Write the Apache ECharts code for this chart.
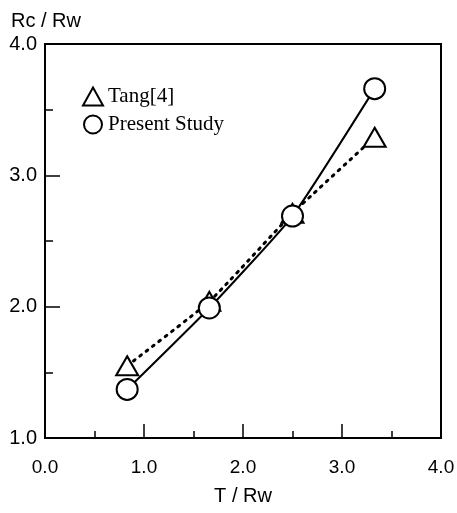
<!DOCTYPE html>
<html>
<head>
<meta charset="utf-8">
<script src="https://cdn.jsdelivr.net/npm/echarts@6/dist/echarts.min.js"></script>
<style>html,body{margin:0;padding:0;background:#fff}#c{width:457px;height:513px}</style>
</head>
<body>
<div id="c"></div>
<script>
var xTang = [0.83, 1.66, 2.5, 3.33];
var yTang = [1.55, 2.04, 2.71, 3.29];
var xPresent = [0.83, 1.66, 2.5, 3.33];
var yPresent = [1.37, 1.99, 2.69, 3.66];
var xTicks = [0, 1, 2, 3, 4];
var yTicks = [1, 2, 3, 4];

function pairs(xs, ys) { return xs.map(function (x, i) { return [x, ys[i]]; }); }

var chart = echarts.init(document.getElementById('c'), null, {renderer: 'canvas'});
var axisFont = {fontFamily: 'Liberation Sans', fontSize: 19, color: '#000'};
chart.setOption({
  animation: false,
  backgroundColor: '#fff',
  title: {text: 'Rc / Rw', left: 6, top: 6, textStyle: {fontFamily: 'Liberation Sans', fontSize: 20, fontWeight: 'normal', color: '#000'}},
  grid: {left: 45, right: 16, top: 44, bottom: 75, outerBoundsMode: 'none', containLabel: false, show: true, borderColor: '#000', borderWidth: 2, backgroundColor: 'transparent'},
  legend: {
    orient: 'vertical', left: 82, top: 86, padding: 0, itemWidth: 20, itemHeight: 18, itemGap: 7,
    textStyle: {fontFamily: 'Liberation Serif', fontSize: 21, color: '#000'},
    itemStyle: {color: '#fff', borderColor: '#000', borderWidth: 2},
    data: [{name: 'Tang[4]', icon: 'triangle'}, {name: 'Present Study', icon: 'circle'}]
  },
  xAxis: {
    type: 'value', min: xTicks[0], max: xTicks[xTicks.length - 1], interval: 1,
    name: 'T / Rw', nameLocation: 'middle', nameGap: 48, nameTextStyle: Object.assign({}, axisFont, {fontSize: 20}),
    axisLine: {show: true, lineStyle: {color: '#000', width: 2}},
    axisTick: {show: true, inside: true, length: 14, lineStyle: {color: '#000', width: 1.5}},
    minorTick: {show: true, splitNumber: 2, length: 7, lineStyle: {color: '#000', width: 1.5}},
    splitLine: {show: false},
    axisLabel: Object.assign({margin: 20, formatter: function (v) { return v.toFixed(1); }}, axisFont)
  },
  yAxis: {
    type: 'value', min: yTicks[0], max: yTicks[yTicks.length - 1], interval: 1,
    axisLine: {show: true, lineStyle: {color: '#000', width: 2}},
    axisTick: {show: true, inside: true, length: 15, lineStyle: {color: '#000', width: 1.5}},
    minorTick: {show: true, splitNumber: 2, length: 8, lineStyle: {color: '#000', width: 1.5}},
    splitLine: {show: false},
    axisLabel: Object.assign({margin: 8, formatter: function (v) { return v.toFixed(1); }}, axisFont, {fontSize: 20})
  },
  series: [
    {
      name: 'Tang[4]', type: 'line', data: pairs(xTang, yTang), smooth: 0.15,
      symbol: 'triangle', symbolSize: [22, 19],
      itemStyle: {color: '#fff', borderColor: '#000', borderWidth: 2},
      lineStyle: {color: '#000', width: 3, type: [2, 6], cap: 'round'}, z: 2
    },
    {
      name: 'Present Study', type: 'line', data: pairs(xPresent, yPresent), smooth: 0.15,
      symbol: 'circle', symbolSize: 21,
      itemStyle: {color: '#fff', borderColor: '#000', borderWidth: 2},
      lineStyle: {color: '#000', width: 2}, z: 3
    }
  ]
});
</script>
</body>
</html>
